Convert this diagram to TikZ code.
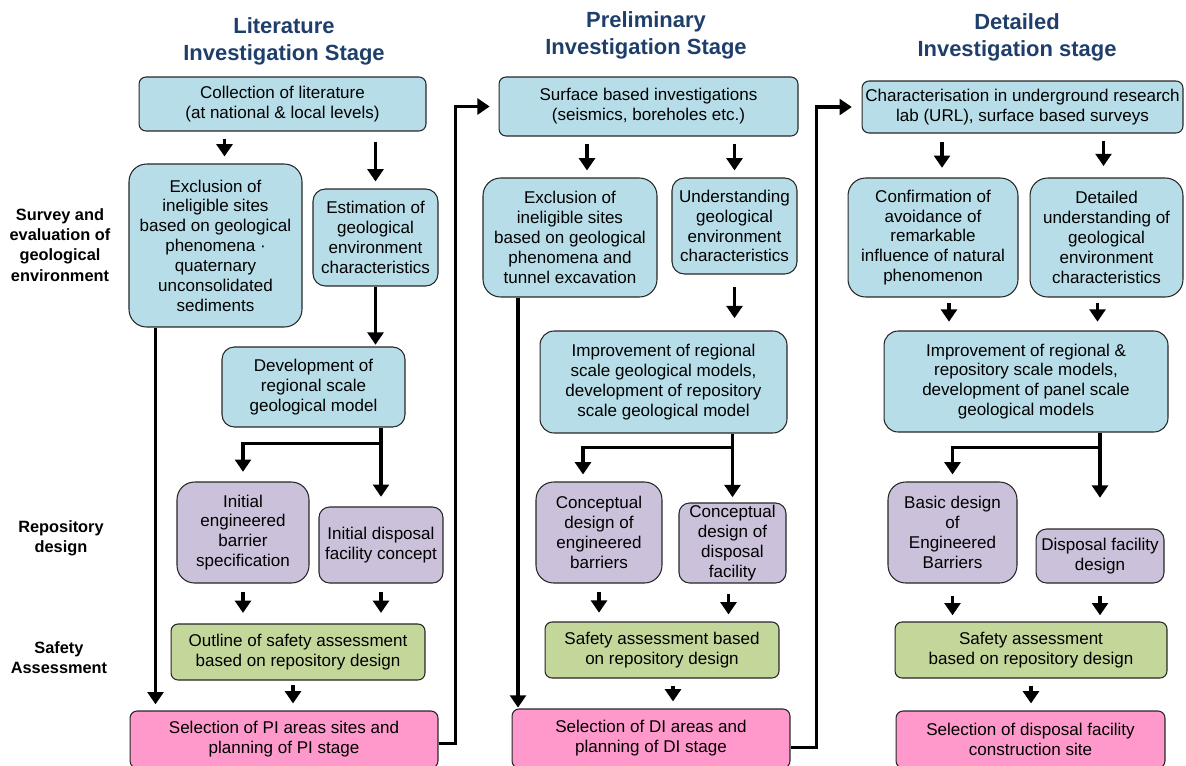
\documentclass[tikz,border=0pt]{standalone}
\usepackage{fontspec}
\setmainfont{Liberation Sans}
\usetikzlibrary{arrows.meta,positioning,calc}

\definecolor{geoblue}{HTML}{B7DEE8}
\definecolor{reppurple}{HTML}{CCC1DA}
\definecolor{safgreen}{HTML}{C4D79B}
\definecolor{selpink}{HTML}{FF99CC}
\definecolor{titlenavy}{HTML}{1F3F6B}

\begin{document}
\begin{tikzpicture}[
    x=0.02cm, y=-0.02cm,
    box/.style={draw=black!85, line width=0.6pt, align=center, inner sep=1pt, font=\fontsize{9.7pt}{11.3pt}\selectfont},
    geo/.style={box, fill=geoblue},
    rep/.style={box, fill=reppurple},
    saf/.style={box, fill=safgreen, rounded corners=4pt},
    sel/.style={box, fill=selpink, rounded corners=4pt},
    stage/.style={align=center, font=\fontsize{12.5pt}{15.3pt}\selectfont\bfseries, text=titlenavy},
    side/.style={align=center, font=\fontsize{9.3pt}{11.5pt}\selectfont\bfseries},
    arrow/.style={-{Triangle[width=9pt, length=7pt]}, line width=2.2pt, shorten <=4pt, shorten >=4pt}
]
\useasboundingbox (0,0) rectangle (1186,765);

% Stage titles
\node[stage] (t1) at (284,41) {Literature\\Investigation Stage};
\node[stage] (t2) at (646,35) {Preliminary\\Investigation Stage};
\node[stage] (t3) at (1017,37) {Detailed\\Investigation stage};

% Row labels
\node[side] (survey) at (60,245) {Survey and\\evaluation of\\geological\\environment};
\node[side] (repo) at (61,538) {Repository\\design};
\node[side] (safety) at (59,658) {Safety\\Assessment};

% Literature stage
\node[geo, minimum width=5.74cm, minimum height=1.08cm, rounded corners=4pt] (lit) at (282.5,104) {Collection of literature\\(at national \& local levels)};
\node[geo, minimum width=3.46cm, minimum height=3.26cm, rounded corners=10pt] (excl1) at (215.5,245.5) {Exclusion of\\ineligible sites\\based on geological\\phenomena ·\\quaternary\\unconsolidated\\sediments};
\node[geo, minimum width=2.5cm, minimum height=1.94cm, rounded corners=7pt] (est1) at (375.5,237.5) {Estimation of\\geological\\environment\\characteristics};
\node[geo, minimum width=3.66cm, minimum height=1.6cm, rounded corners=7pt] (dev1) at (313.5,387) {Development of\\regional scale\\geological model};
\node[rep, minimum width=2.64cm, minimum height=2.02cm, rounded corners=10pt] (ieb1) at (243,532.5) {Initial\\engineered\\barrier\\specification};
\node[rep, minimum width=2.48cm, minimum height=1.52cm, rounded corners=6pt] (idf1) at (381,545) {Initial disposal\\facility concept};
\node[saf, minimum width=5.08cm, minimum height=1.12cm] (osa1) at (298,652) {Outline of safety assessment\\based on repository design};
\node[sel, minimum width=6.16cm, minimum height=1.14cm] (sel1) at (284,739.5) {Selection of PI areas sites and\\planning of PI stage};

% Preliminary stage
\node[geo, minimum width=5.98cm, minimum height=1.18cm, rounded corners=4pt] (surf) at (648.5,106.5) {Surface based investigations\\(seismics, boreholes etc.)};
\node[geo, minimum width=3.48cm, minimum height=2.38cm, rounded corners=10pt] (excl2) at (570,237.5) {Exclusion of\\ineligible sites\\based on geological\\phenomena and\\tunnel excavation};
\node[geo, minimum width=2.5cm, minimum height=1.92cm, rounded corners=7pt] (und2) at (734.5,226) {Understanding\\geological\\environment\\characteristics};
\node[geo, minimum width=4.94cm, minimum height=2.04cm, rounded corners=8pt] (impr2) at (663.5,382) {Improvement of regional\\scale geological models,\\development of repository\\scale geological model};
\node[rep, minimum width=2.52cm, minimum height=2.02cm, rounded corners=10pt] (ceb2) at (599,532.5) {Conceptual\\design of\\engineered\\barriers};
\node[rep, minimum width=2.14cm, minimum height=1.6cm, rounded corners=6pt] (cdf2) at (732.5,543) {Conceptual\\design of\\disposal\\facility};
\node[saf, minimum width=4.68cm, minimum height=1.12cm] (sa2) at (662,650) {Safety assessment based\\on repository design};
\node[sel, minimum width=5.56cm, minimum height=1.18cm] (sel2) at (651,738.5) {Selection of DI areas and\\planning of DI stage};

% Detailed stage
\node[geo, minimum width=6.42cm, minimum height=1.04cm, rounded corners=4pt] (char3) at (1022.5,107) {Characterisation in underground research\\lab (URL), surface based surveys};
\node[geo, minimum width=3.4cm, minimum height=2.38cm, rounded corners=10pt] (conf3) at (933,237.5) {Confirmation of\\avoidance of\\remarkable\\influence of natural\\phenomenon};
\node[geo, minimum width=3.06cm, minimum height=2.38cm, rounded corners=10pt] (dund3) at (1106.5,237.5) {Detailed\\understanding of\\geological\\environment\\characteristics};
\node[geo, minimum width=5.68cm, minimum height=2.02cm, rounded corners=8pt] (impr3) at (1026,381.5) {Improvement of regional \&\\repository scale models,\\development of panel scale\\geological models};
\node[rep, minimum width=2.58cm, minimum height=2.02cm, rounded corners=10pt] (bde3) at (952.5,532.5) {Basic design\\of\\Engineered\\Barriers};
\node[rep, minimum width=2.56cm, minimum height=1.08cm, rounded corners=6pt] (dfd3) at (1100,556) {Disposal facility\\design};
\node[saf, minimum width=5.44cm, minimum height=1.12cm] (sa3) at (1031,650) {Safety assessment\\based on repository design};
\node[sel, minimum width=5.38cm, minimum height=1.14cm] (sel3) at (1030.5,739.5) {Selection of disposal facility\\construction site};

% Literature stage arrows
\draw[arrow] ($(excl1.north |- lit.south)+(9,0)$) -- ($(excl1.north)+(9,0)$);
\draw[arrow, shorten <=6pt] (est1.north |- lit.south) -- (est1.north);
\draw[arrow, shorten <=0pt, shorten >=1pt] (est1.south) -- (est1.south |- dev1.north);
\draw[arrow, shorten <=0pt, shorten >=3.5pt] ($(excl1.south)+(-60,0)$) -- ($(excl1.south |- sel1.north)+(-60,0)$);
\draw[arrow, shorten <=0pt, shorten >=5.5pt] (idf1.north |- dev1.south) -- (idf1.north);
\draw[arrow, shorten <=0pt, shorten >=5.5pt] ($(idf1.north |- dev1.south)+(0,16)$) -| (ieb1.north);
\draw[arrow, shorten <=5pt, shorten >=6pt] (ieb1.south) -- (ieb1.south |- osa1.north);
\draw[arrow, shorten <=5pt, shorten >=6pt] (idf1.south) -- (idf1.south |- osa1.north);
\draw[arrow, shorten <=2.5pt] ($(osa1.south)+(-5,0)$) -- ($(osa1.south |- sel1.north)+(-5,0)$);
\draw[arrow, shorten <=0pt, shorten >=5pt] ($(sel1.east)+(0,4)$) -- ++(17,0) |- (surf.west);

% Preliminary stage arrows
\draw[arrow] ($(excl2.north |- surf.south)+(17,0)$) -- ($(excl2.north)+(17,0)$);
\draw[arrow] (und2.north |- surf.south) -- (und2.north);
\draw[arrow, shorten <=7pt, shorten >=7pt] (und2.south) -- (und2.south |- impr2.north);
\draw[arrow, shorten <=0pt, shorten >=0.5pt] ($(excl2.south)+(-52,0)$) -- ($(excl2.south |- sel2.north)+(-52,0)$);
\draw[arrow, shorten <=0pt, shorten >=3pt] (cdf2.north |- impr2.south) -- (cdf2.north);
\draw[arrow, shorten <=0pt, shorten >=4pt] ($(cdf2.north |- impr2.south)+(0,14)$) -| ($(ceb2.north)+(-16,0)$);
\draw[arrow, shorten <=5pt, shorten >=5pt] (ceb2.south) -- (ceb2.south |- sa2.north);
\draw[arrow, shorten <=6pt, shorten >=4pt] ($(cdf2.south)+(-4,0)$) -- ($(cdf2.south |- sa2.north)+(-4,0)$);
\draw[arrow] ($(sa2.south)+(11,0)$) -- ($(sa2.south |- sel2.north)+(11,0)$);
\draw[arrow, shorten <=0pt, shorten >=5.5pt] ($(sel2.east)+(0,9)$) -- ++(26,0) |- (char3.west);

% Detailed stage arrows
\draw[arrow, shorten <=5pt, shorten >=5.5pt] ($(conf3.north |- char3.south)+(9,0)$) -- ($(conf3.north)+(9,0)$);
\draw[arrow, shorten <=4pt, shorten >=6.5pt] ($(dund3.north |- char3.south)+(-3,0)$) -- ($(dund3.north)+(-3,0)$);
\draw[arrow, shorten <=3pt, shorten >=5pt] ($(conf3.south)+(16,0)$) -- ($(conf3.south |- impr3.north)+(16,0)$);
\draw[arrow, shorten <=3pt, shorten >=5pt] ($(dund3.south)+(-9,0)$) -- ($(dund3.south |- impr3.north)+(-9,0)$);
\draw[arrow, shorten <=0pt, shorten >=17.5pt] (dfd3.north |- impr3.south) -- (dfd3.north);
\draw[arrow, shorten <=0pt, shorten >=4pt] ($(dfd3.north |- impr3.south)+(0,15)$) -| (bde3.north);
\draw[arrow, shorten <=7pt, shorten >=3.5pt] (bde3.south) -- (bde3.south |- sa3.north);
\draw[arrow, shorten <=7pt, shorten >=3.5pt] (dfd3.south) -- (dfd3.south |- sa3.north);
\draw[arrow] (sa3.south) -- (sa3.south |- sel3.north);
\end{tikzpicture}
\end{document}
